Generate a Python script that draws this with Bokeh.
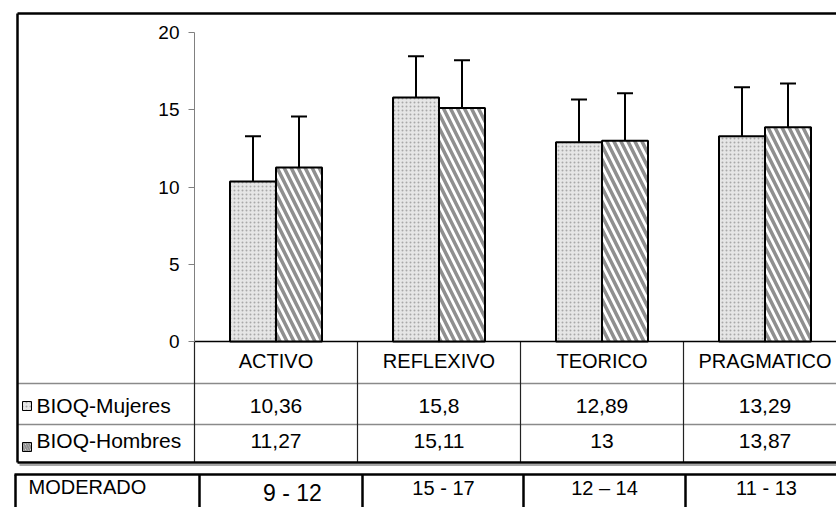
from bokeh.plotting import figure
from bokeh.models import Range1d, ColumnDataSource, FixedTicker
from bokeh.core.properties import value
from bokeh.embed import file_html
from bokeh.resources import INLINE

# ---------------- data ----------------
categories = ["ACTIVO", "REFLEXIVO", "TEORICO", "PRAGMATICO"]
series_names = ["BIOQ-Mujeres", "BIOQ-Hombres"]
mujeres = [10.36, 15.8, 12.89, 13.29]
hombres = [11.27, 15.11, 13, 13.87]
sd_mujeres = [2.93, 2.67, 2.77, 3.17]
sd_hombres = [3.29, 3.10, 3.07, 2.83]
moderado_label = "MODERADO"
moderado = ["9 - 12", "15 - 17", "12 – 14", "11 - 13"]
y_ticks = [0, 5, 10, 15, 20]

# ---------------- layout constants (page pixels) ----------------
W, H = 836, 507
AXIS_X = 194
CAT_W = 163
Y0 = 341
PX_PER_UNIT = 15.45
FONT = "Liberation Sans"
FAR = 1000  # beyond right edge (chart is cropped there)


def X(px):
    return (px - AXIS_X) / CAT_W


def Y(py):
    return (Y0 - py) / PX_PER_UNIT


def fmt(v):
    return f"{v:g}".replace(".", ",")


p = figure(width=W, height=H, output_backend="svg", toolbar_location=None,
           x_range=Range1d(X(0), X(W)), y_range=Range1d(Y(H), Y(0)),
           x_axis_location=None,
           min_border_left=0, min_border_right=0,
           min_border_top=0, min_border_bottom=0)
p.outline_line_color = None
p.grid.visible = False
p.background_fill_color = "white"
p.border_fill_color = "white"

ax = p.yaxis[0]
ax.fixed_location = 0
ax.ticker = FixedTicker(ticks=y_ticks)
ax.bounds = (min(y_ticks), max(y_ticks))
ax.axis_line_color = "#808080"
ax.axis_line_width = 1
ax.major_tick_line_color = "#808080"
ax.major_tick_out = 6
ax.major_tick_in = 0
ax.minor_tick_line_color = None
ax.major_label_text_font = FONT
ax.major_label_text_font_size = "19px"
ax.major_label_text_color = "black"
ax.major_label_standoff = 9

# ---------------- table grid lines ----------------
def lines(segs, color, width):
    s = ColumnDataSource(dict(x0=[a[0] for a in segs], y0=[a[1] for a in segs],
                              x1=[a[2] for a in segs], y1=[a[3] for a in segs]))
    p.segment(x0="x0", y0="y0", x1="x1", y1="y1", source=s, line_color=color, line_width=width)


# shadow under frame
lines([(X(19), Y(464.5), X(FAR), Y(464.5))], "#8a8a8a", 1.5)
# row separators
lines([(X(17), Y(383), X(FAR), Y(383)), (X(17), Y(424), X(FAR), Y(424))], "#8a8a8a", 1.5)
# column separators at category boundaries
lines([(k, 0, k, Y(462)) for k in range(len(categories))], "#222222", 1.2)
# zero line
lines([(0, 0, X(FAR), 0)], "black", 1.5)
# outer frame (open on the cropped right side)
lines([(X(17), Y(13), X(FAR), Y(13)), (X(17), Y(13), X(17), Y(462)),
       (X(17), Y(462), X(FAR), Y(462))], "black", 2.5)
# bottom table
lines([(X(14), Y(474), X(FAR), Y(474))], "black", 2.5)
lines([(X(px), Y(474), X(px), Y(520)) for px in (15, 199, 362, 523, 685)], "black", 2.5)

# ---------------- bars ----------------
BAR_W = 46 / CAT_W
CAP = 16 / CAT_W
idx = list(range(len(categories)))
src = ColumnDataSource(dict(
    xm=[i + 0.5 - BAR_W / 2 for i in idx],
    xh=[i + 0.5 + BAR_W / 2 for i in idx],
    m=mujeres, h=hombres,
    m_hi=[v + s for v, s in zip(mujeres, sd_mujeres)],
    h_hi=[v + s for v, s in zip(hombres, sd_hombres)],
))

MUJ_STYLE = dict(fill_color="#e6e6e6", hatch_pattern="dot", hatch_color="#a8a8a8",
                 hatch_scale=4, hatch_weight=1)
HOM_STYLE = dict(fill_color="white", hatch_pattern="left_diagonal_line",
                 hatch_color="#8f8f8f", hatch_scale=14, hatch_weight=3.5)

p.vbar(x="xm", top="m", bottom=0, width=BAR_W, source=src, line_color="black",
       line_width=2, **MUJ_STYLE)
p.vbar(x="xh", top="h", bottom=0, width=BAR_W, source=src, line_color="black",
       line_width=2, **HOM_STYLE)

# error bars (upper only)
for xc, lo, hi in (("xm", "m", "m_hi"), ("xh", "h", "h_hi")):
    p.segment(x0=xc, y0=lo, x1=xc, y1=hi, source=src, line_color="black", line_width=2)
    cap_src = ColumnDataSource(dict(
        x0=[x - CAP / 2 for x in src.data[xc]],
        x1=[x + CAP / 2 for x in src.data[xc]],
        y=src.data[hi]))
    p.segment(x0="x0", y0="y", x1="x1", y1="y", source=cap_src, line_color="black", line_width=2)

# legend keys in the table
p.quad(left=[X(22)], right=[X(31)], top=[Y(401)], bottom=[Y(410)],
       line_color="black", line_width=1, **MUJ_STYLE)
p.quad(left=[X(22)], right=[X(31)], top=[Y(442)], bottom=[Y(451)],
       line_color="black", line_width=1, **dict(HOM_STYLE, hatch_scale=5, hatch_weight=2))


# ---------------- texts ----------------
def labels(xs, ys, texts, size, align="center"):
    s = ColumnDataSource(dict(x=xs, y=ys, t=texts))
    p.text(x="x", y="y", text="t", source=s, text_align=align,
           text_baseline="middle", text_font=value(FONT),
           text_font_size=value(size), text_color="black")


centers = [i + 0.5 for i in idx]
labels(centers, [Y(360)] * len(categories), categories, "20px")
labels(centers, [Y(405)] * len(categories), [fmt(v) for v in mujeres], "21px")
labels(centers, [Y(440)] * len(categories), [fmt(v) for v in hombres], "21px")
labels([X(36), X(36)], [Y(405), Y(440)], series_names, "21px", align="left")
labels([X(28)], [Y(486)], [moderado_label], "20px", align="left")
labels([X(292)], [Y(492)], moderado[:1], "23px")
labels([X(443), X(604), X(766)], [Y(487)] * 3, moderado[1:], "20px")

open("out.html", "w").write(file_html(p, INLINE))
